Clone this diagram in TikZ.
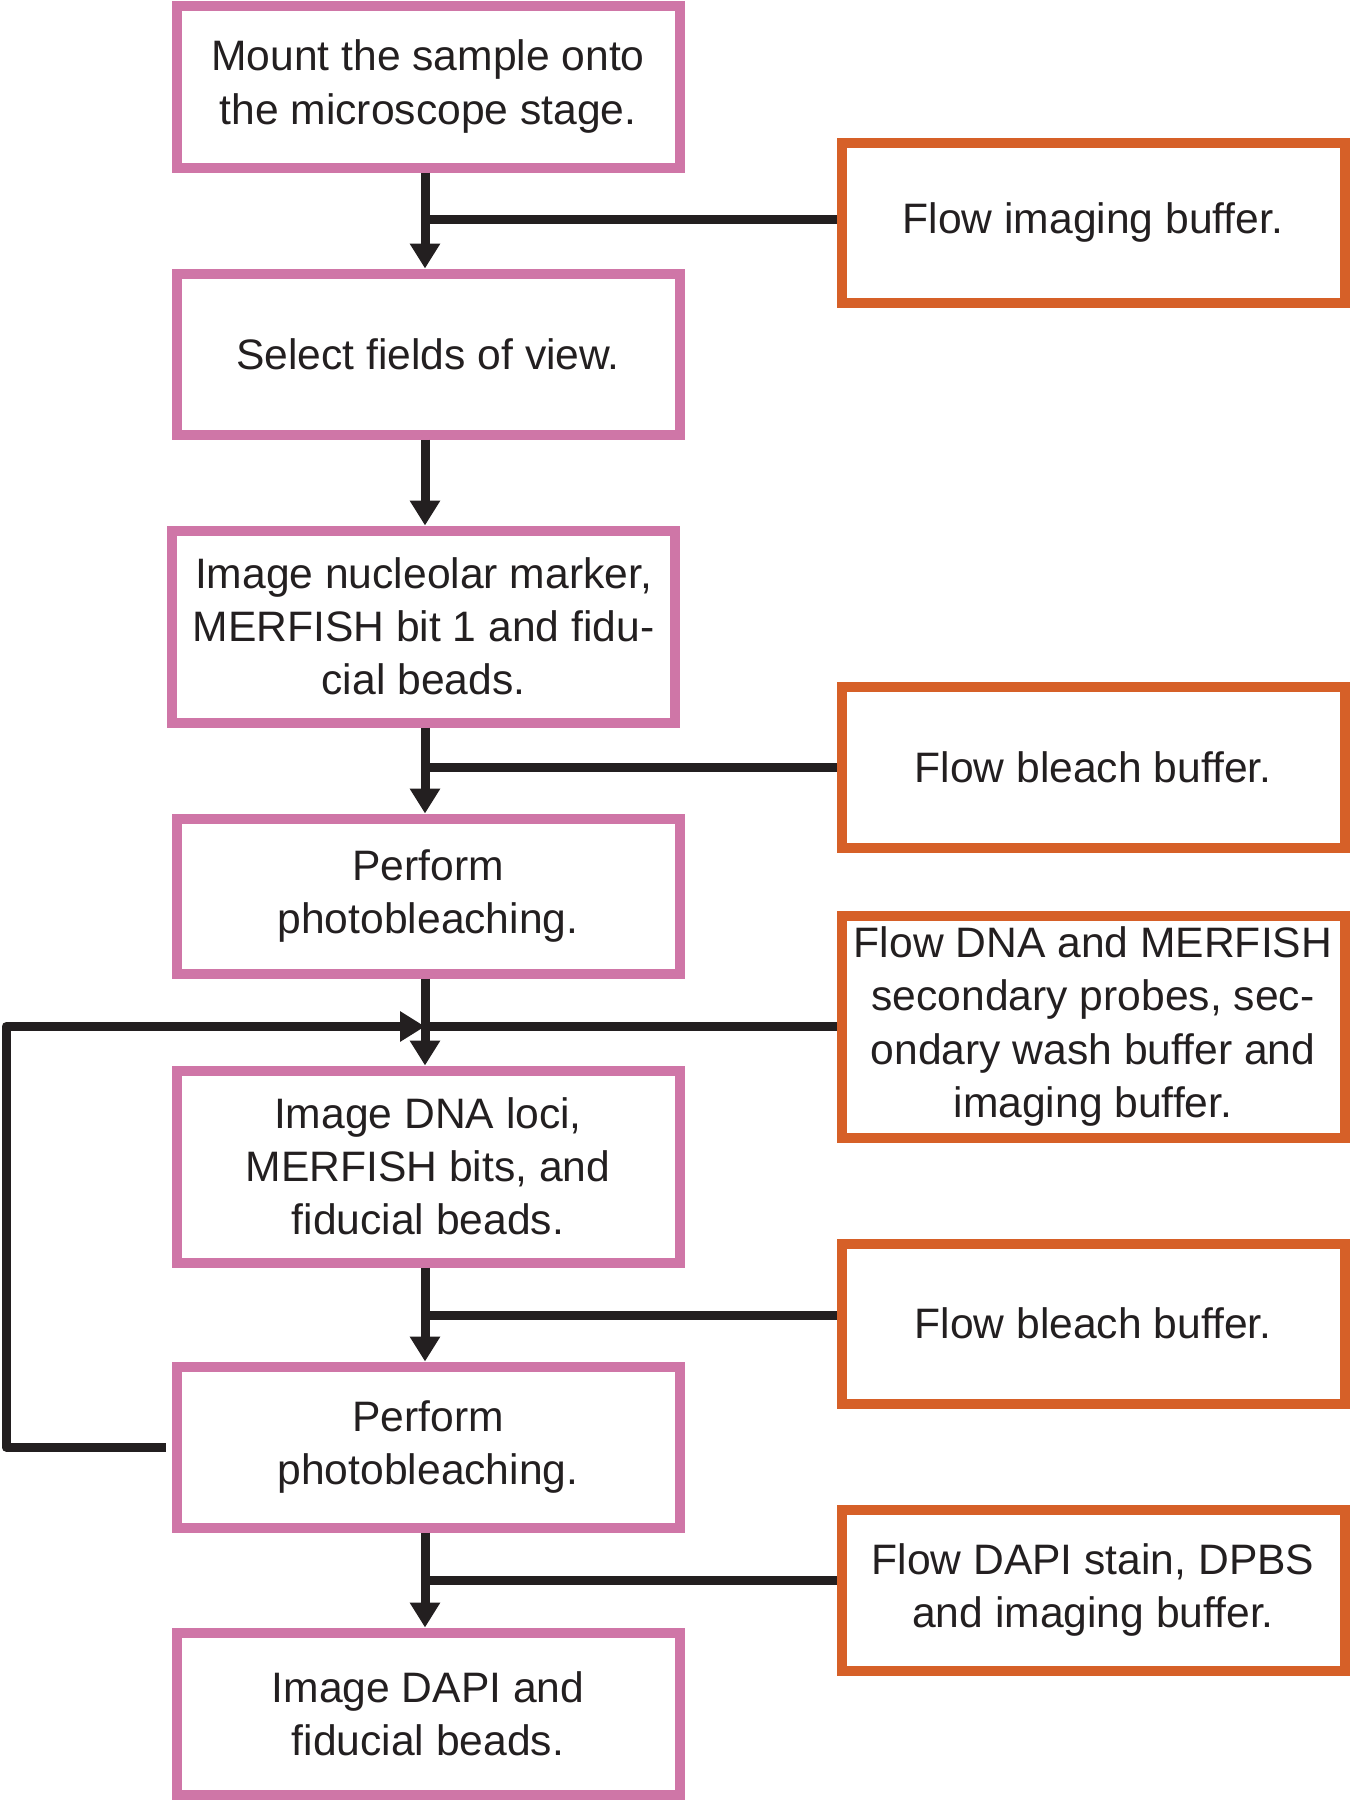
\documentclass[tikz,border=0pt]{standalone}
\usepackage{fontspec}
\setmainfont{Liberation Sans}
\usetikzlibrary{arrows.meta}
\definecolor{stepPink}{RGB}{207,118,167}
\definecolor{bufOrange}{RGB}{214,96,40}
\definecolor{lineBlack}{RGB}{35,31,32}

\begin{document}
\begin{tikzpicture}
[x=0.5pt, y=-0.5pt,
 font=\fontsize{21.3}{26.6}\selectfont, text=lineBlack,
 pinkbox/.style={draw=stepPink, line width=5pt, align=center,
                 minimum width=251.5pt, inner sep=0pt},
 orangebox/.style={draw=bufOrange, line width=5pt, align=center,
                 minimum width=251.5pt, inner sep=0pt},
 flow/.style={draw=lineBlack, line width=4.5pt, line join=round,
              -{Triangle[length=12.5pt,width=14.5pt]}},
 feed/.style={draw=lineBlack, line width=4.5pt}]
  \useasboundingbox (0,0) rectangle (1350,1800);
  \coordinate (spine) at (425,0);
  \coordinate (loopx) at (6,0);
  % steps
  \node[pinkbox, minimum height=81pt] (mount) at (428,86.5)
    {Mount the sample onto\\the microscope stage.};
  \node[pinkbox, minimum height=80.5pt] (select) at (428,354)
    {Select fields of view.};
  \node[pinkbox, minimum height=96pt] (nucleolar) at (423.5,626.5)
    {Image nucleolar marker,\\MERFISH bit 1 and fidu-\\cial beads.};
  \node[pinkbox, minimum height=77.5pt] (bleachA) at (428,896)
    {Perform\\photobleaching.};
  \node[pinkbox, minimum height=96pt] (loci) at (428,1166.5)
    {Image DNA loci,\\MERFISH bits, and\\fiducial beads.};
  \node[pinkbox, minimum height=80.5pt] (bleachB) at (428,1447)
    {Perform\\photobleaching.};
  \node[pinkbox, minimum height=81pt] (dapi) at (428,1713.5)
    {Image DAPI and\\fiducial beads.};
  % buffers
  \node[orangebox, minimum height=80pt] (imgbuf) at (1093,222.5)
    {Flow imaging buffer.};
  \node[orangebox, minimum height=80.5pt] (bleachbufA) at (1093,767)
    {Flow bleach buffer.};
  \node[orangebox, minimum height=111pt] (probes) at (1093,1026.5)
    {Flow DNA and MERFISH\\secondary probes, sec-\\ondary wash buffer and\\imaging buffer.};
  \node[orangebox, minimum height=80pt] (bleachbufB) at (1093,1323.5)
    {Flow bleach buffer.};
  \node[orangebox, minimum height=80.5pt] (dapibuf) at (1093,1590)
    {Flow DAPI stain, DPBS\\and imaging buffer.};
  % main line
  \draw[flow] (mount.south -| spine) -- (select.north -| spine);
  \draw[flow] (select.south -| spine) -- (nucleolar.north -| spine);
  \draw[flow] (nucleolar.south -| spine) -- (bleachA.north -| spine);
  \draw[flow] (bleachA.south -| spine) -- (loci.north -| spine);
  \draw[flow] (loci.south -| spine) -- (bleachB.north -| spine);
  \draw[flow] (bleachB.south -| spine) -- (dapi.north -| spine);
  % buffer feeds
  \draw[feed] ([yshift=1.7pt]imgbuf.west) -- ([yshift=1.7pt]imgbuf.west -| spine);
  \draw[feed] (bleachbufA.west) -- (bleachbufA.west -| spine);
  \draw[feed] (probes.west) -- (probes.west -| spine);
  \draw[feed] ([yshift=4pt]bleachbufB.west) -- ([yshift=4pt]bleachbufB.west -| spine);
  \draw[feed] ([yshift=4.6pt]dapibuf.west) -- ([yshift=4.6pt]dapibuf.west -| spine);
  % loop back
  \draw[flow, shorten <=3pt] (bleachB.west) -- (bleachB.west -| loopx)
    |- (probes.west -| spine);
\end{tikzpicture}
\end{document}
